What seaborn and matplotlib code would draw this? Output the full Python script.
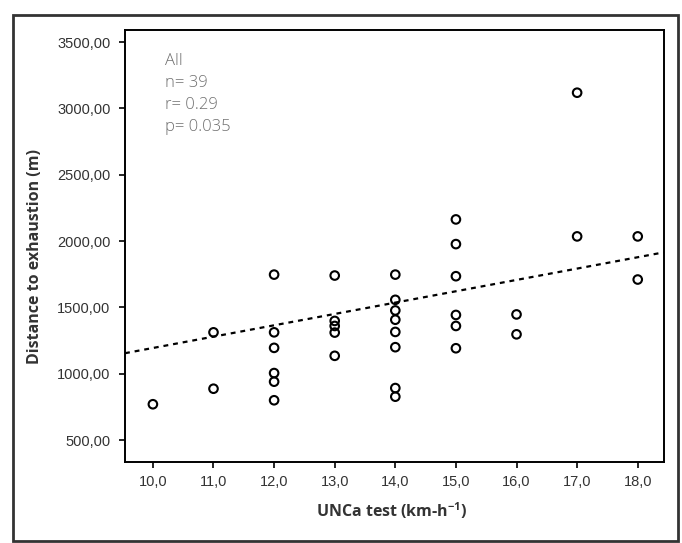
import numpy as np
import pandas as pd
import matplotlib
matplotlib.use("Agg")
import matplotlib.pyplot as plt
import seaborn as sns
from matplotlib.patches import Rectangle
from matplotlib.ticker import FuncFormatter

# valores
unca = [10,
        11, 11,
        12, 12, 12, 12, 12, 12,
        13, 13, 13, 13, 13,
        14, 14, 14, 14, 14, 14, 14, 14,
        15, 15, 15, 15, 15, 15,
        16, 16,
        17, 17,
        18, 18]
distancia = [770,
             1312, 887,
             1747, 1312, 1195, 1005, 940, 800,
             1740, 1398, 1360, 1310, 1135,
             1747, 1557, 1477, 1407, 1315, 1200, 892, 827,
             2163, 1977, 1735, 1443, 1360, 1192,
             1447, 1297,
             3118, 2035,
             2035, 1710]

# recta de ajuste (leida)
pendiente = 85.5
intercepto = 339.0

x_ticks = [10, 11, 12, 13, 14, 15, 16, 17, 18]
y_ticks = [500, 1000, 1500, 2000, 2500, 3000, 3500]
anotacion = ["All", "n= 39", "r= 0.29", "p= 0.035"]

df = pd.DataFrame({"unca": unca, "distancia": distancia})

sns.set_style("ticks")
plt.rcParams["font.family"] = ["Open Sans", "DejaVu Sans"]

fig = plt.figure(figsize=(6.82, 5.43), dpi=100)
ax = fig.add_axes([0.1833, 0.149, 0.790, 0.7956])

sns.scatterplot(
    data=df,
    x="unca",
    y="distancia",
    marker="o",
    s=38,
    facecolor="none",
    edgecolor="black",
    linewidth=1.5,
    ax=ax
)

xlim = (9.54, 18.43)
xs = np.array(xlim)
ax.plot(xs, intercepto + pendiente * xs, color="black", lw=1.6,
        linestyle=(0, (2.2, 2.2)))

ax.set_xlim(xlim)
ax.set_ylim(334, 3590)
ax.set_xticks(x_ticks)
ax.set_yticks(y_ticks)
ax.xaxis.set_major_formatter(FuncFormatter(lambda v, p: f"{v:.1f}".replace(".", ",")))
ax.yaxis.set_major_formatter(FuncFormatter(lambda v, p: f"{v:.2f}".replace(".", ",")))
ax.tick_params(axis="both", direction="out", length=4.5, width=1.2,
               labelsize=10.5, color="black", labelcolor="#333333")
ax.tick_params(axis="y", pad=6)
ax.tick_params(axis="x", pad=5)
for lab in ax.get_xticklabels() + ax.get_yticklabels():
    lab.set_family(["Liberation Sans", "DejaVu Sans"])

for sp in ax.spines.values():
    sp.set_visible(True)
    sp.set_linewidth(1.4)
    sp.set_color("black")

ax.set_xlabel("UNCa test (km-h$^{\\mathregular{-1}}$)", fontsize=11.5,
              fontweight="bold", color="#333333")
ax.set_ylabel("Distance to exhaustion (m)", fontsize=11.5,
              fontweight="bold", color="#333333")
ax.xaxis.set_label_coords(0.495, -0.088)
ax.yaxis.set_label_coords(-0.152, 0.475)

for i, linea in enumerate(anotacion):
    ax.text(0.074, 0.928 - i * 0.051, linea, transform=ax.transAxes,
            fontsize=12, color="#707070", fontweight="light", va="center")

# marco exterior
fig.patches.append(Rectangle((0.019, 0.004), 0.975, 0.968, transform=fig.transFigure,
                             fill=False, edgecolor="#333333", linewidth=2))

fig.savefig("out.png", dpi=100)
